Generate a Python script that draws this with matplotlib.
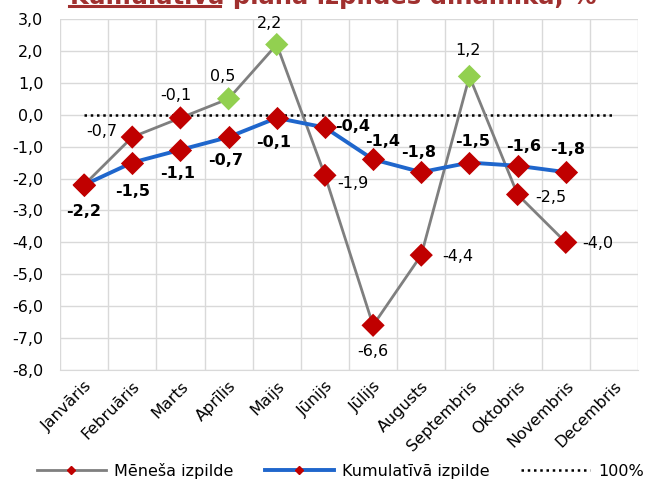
import matplotlib.pyplot as plt
import numpy as np

months = ["Janvāris", "Februāris", "Marts", "Aprīlis", "Maijs", "Jūnijs",
          "Jūlijs", "Augusts", "Septembris", "Oktobris", "Novembris", "Decembris"]
monthly = [-2.2, -0.7, -0.1, 0.5, 2.2, -1.9, -6.6, -4.4, 1.2, -2.5, -4.0]
cumulative = [-2.2, -1.5, -1.1, -0.7, -0.1, -0.4, -1.4, -1.8, -1.5, -1.6, -1.8]
target = [0.0] * 12

# label placement offsets (points)
monthly_off = [(0, 0), (-22, 4), (-3, 16), (-4, 16), (-5, 15), (20, -6),
               (0, -19), (26, -1), (-1, 19), (24, -2), (23, -1)]
cum_off = [(0, -19), (0, -21), (-2, -17), (-2, -17), (-2, -18), (20, 1),
           (7, 13), (-2, 14), (2, 15), (4, 14), (1, 16)]

red = "#C00000"
green = "#92D050"
fs = 11.5

fig = plt.figure(figsize=(6.48, 4.79), dpi=100)
ax = fig.add_axes([60 / 648, 1 - 370 / 479, 578 / 648, 351 / 479])

x = np.arange(len(months))
xm = x[:len(monthly)]

ax.plot(x, target, ls=(0, (1, 1.5)), color="black", lw=1.8, label="100%", zorder=2)
ax.plot(xm, monthly, color="#7F7F7F", lw=2, zorder=3, label="Mēneša izpilde",
        marker="D", ms=4, mfc=red, mec=red)
ax.plot(xm, cumulative, color="#1F66CC", lw=2.8, zorder=3, label="Kumulatīvā izpilde",
        marker="D", ms=4, mfc=red, mec=red)

mcolors = [green if v > 0 else red for v in monthly]
ax.scatter(xm, monthly, marker="D", s=140, c=mcolors, zorder=4, linewidths=0)
ax.scatter(xm, cumulative, marker="D", s=140, c=red, zorder=5, linewidths=0)

def fmt(v):
    return f"{v:.1f}".replace(".", ",")

for i, v in enumerate(monthly):
    if i == 0:
        continue
    ax.annotate(fmt(v), (i, v), xytext=monthly_off[i], textcoords="offset points",
                ha="center", va="center", fontsize=fs)
for i, v in enumerate(cumulative):
    ax.annotate(fmt(v), (i, v), xytext=cum_off[i], textcoords="offset points",
                ha="center", va="center", fontsize=fs, fontweight="bold")

ax.set_xlim(-0.5, 11.5)
ax.set_ylim(-8, 3)
ax.set_yticks(np.arange(-8, 3.1, 1))
ax.set_yticklabels([fmt(v) for v in np.arange(-8, 3.1, 1)], fontsize=fs)
ax.set_xticks(x)
ax.set_xticklabels(months, rotation=45, ha="right", rotation_mode="anchor", fontsize=fs)
ax.set_xticks(np.arange(-0.5, 12, 1), minor=True)
ax.tick_params(which="both", length=0)
ax.tick_params(axis="y", pad=12)
ax.tick_params(axis="x", pad=6)
ax.grid(which="minor", axis="x", color="#D9D9D9", lw=1)
ax.grid(which="major", axis="y", color="#D9D9D9", lw=1)
for s in ax.spines.values():
    s.set_visible(False)
ax.spines["bottom"].set_visible(True)
ax.spines["bottom"].set_color("#D9D9D9")

# title is cut off by the top edge in the reference
fig.text(333 / 648, 1 - 4 / 479, "Kumulatīvā plāna izpildes dinamika, %", ha="center",
         va="baseline", fontsize=17.5, fontweight="bold", color="#A0302F")
fig.add_artist(plt.Line2D([69 / 648, 220 / 648], [1 - 5.5 / 479, 1 - 5.5 / 479],
                          color="#A0302F", lw=2.2, transform=fig.transFigure))

h, l = ax.get_legend_handles_labels()
fig.legend([h[1], h[2], h[0]], [l[1], l[2], l[0]], loc="center", ncol=3,
           bbox_to_anchor=(0.525, 1 - 471 / 479), frameon=False, fontsize=fs,
           handlelength=4.3, handletextpad=0.5, columnspacing=2.0)

fig.savefig("out.png", dpi=100)
